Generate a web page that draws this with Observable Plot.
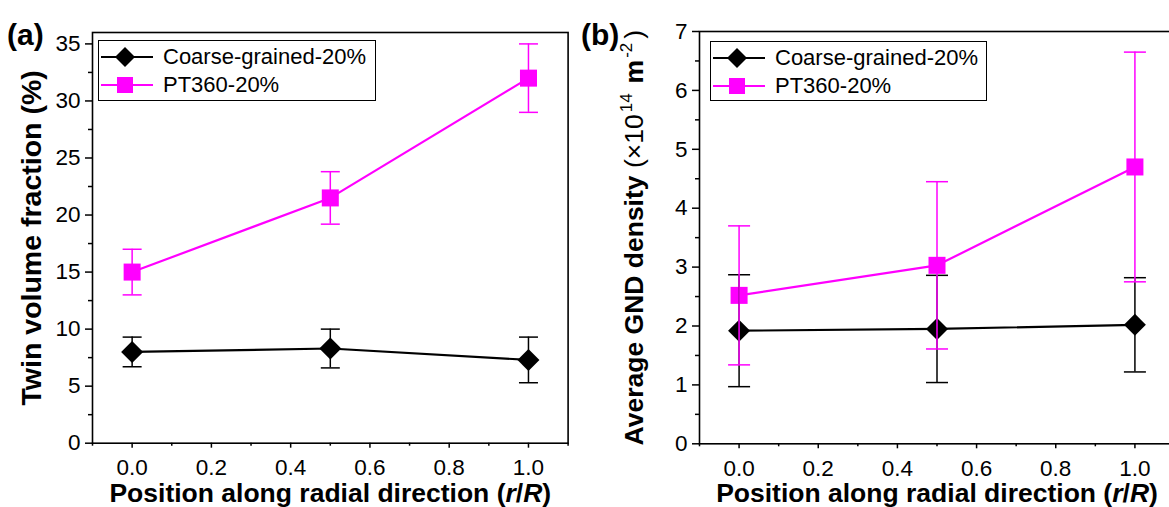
<!DOCTYPE html>
<html>
<head>
<meta charset="utf-8">
<script src="https://cdn.jsdelivr.net/npm/d3@7"></script>
<script src="https://cdn.jsdelivr.net/npm/@observablehq/plot@0.6"></script>
<style>
  html, body { margin: 0; padding: 0; background: white; }
  #wrap { position: relative; width: 1169px; height: 507px; overflow: hidden; background: white;
          font-family: "Liberation Sans", Arial, Helvetica, sans-serif; }
  .panel { position: absolute; top: 0; }
  .panel svg { max-width: none !important; }
  .panel svg g[aria-label$="tick label"], .panel svg g[aria-label$="tick label"] text { font-size: 22.5px; }
  .tag { position: absolute; font-weight: bold; font-size: 30px; line-height: 1; }
  .legend { position: absolute; border: 1.5px solid black; box-sizing: border-box; background: white; }
  .legend .row { position: absolute; left: 0; height: 28px; display: flex; align-items: center; font-size: 22px; white-space: nowrap; }
  .legend .row svg { display: block; margin-right: 7px; }
</style>
</head>
<body>
<div id="wrap">
  <div class="panel" id="pa" style="left:0px"></div>
  <div class="panel" id="pb" style="left:585px"></div>
  <div class="tag" style="left:7px; top:20px">(a)</div>
  <div class="tag" style="left:581px; top:20px">(b)</div>
  <div class="legend" id="lega" style="left:98px; top:40px; width:278px; height:61px"></div>
  <div class="legend" id="legb" style="left:710px; top:41px; width:277px; height:60px"></div>
</div>
<script>
// ---------------- data ----------------
const positions = [0.0, 0.5, 1.0];
const seriesNames = ["Coarse-grained-20%", "PT360-20%"];
const seriesColors = ["#000000", "#ff00ff"];

// (a) Twin volume fraction (%)
const twinCoarse   = [8.0, 8.3, 7.3];
const twinCoarseLo = [6.7, 6.6, 5.3];
const twinCoarseHi = [9.3, 10.0, 9.3];
const twinPT       = [15.0, 21.5, 32.0];
const twinPTLo     = [13.0, 19.2, 29.0];
const twinPTHi     = [17.0, 23.8, 35.0];

// (b) Average GND density (x10^14 m^-2)
const gndCoarse   = [1.92, 1.95, 2.02];
const gndCoarseLo = [0.97, 1.04, 1.22];
const gndCoarseHi = [2.87, 2.86, 2.82];
const gndPT       = [2.52, 3.03, 4.70];
const gndPTLo     = [1.34, 1.61, 2.75];
const gndPTHi     = [3.70, 4.45, 6.65];

// ticks
const xMajor = [0.0, 0.2, 0.4, 0.6, 0.8, 1.0];
const xMinor = [-0.1, 0.1, 0.3, 0.5, 0.7, 0.9, 1.1];
const yMajorA = [0, 5, 10, 15, 20, 25, 30, 35];
const yMinorA = [2.5, 7.5, 12.5, 17.5, 22.5, 27.5, 32.5];
const yMajorB = [0, 1, 2, 3, 4, 5, 6, 7];
const yMinorB = [0.5, 1.5, 2.5, 3.5, 4.5, 5.5, 6.5];

const xTitle = "Position along radial direction (r/R)";
const yTitleA = "Twin volume fraction (%)";
const yTitleB = "Average GND density (×1014 m-2)";

function rows(y, lo, hi, s) {
  return positions.map((x, i) => ({x, y: y[i], lo: lo[i], hi: hi[i], s}));
}

const capSymbol = {
  draw(context, size) {
    const r = Math.sqrt(size / Math.PI);
    context.moveTo(-r, 0);
    context.lineTo(r, 0);
  }
};

const FONT = '"Liberation Sans", Arial, Helvetica, sans-serif';

function panel({width, marginLeft, marginRight, marginTop, marginBottom, yDomain, yMajor, yMinor, coarse, pt, yTitle, capR, titleDx, yTitleSize}) {
  const errLayer = (d, color) => [
    Plot.ruleX(d, {x: "x", y1: "lo", y2: "hi", stroke: color, strokeWidth: 1.5}),
    Plot.dot(d, {x: "x", y: "lo", symbol: capSymbol, r: capR, stroke: color, strokeWidth: 1.5, fill: "none"}),
    Plot.dot(d, {x: "x", y: "hi", symbol: capSymbol, r: capR, stroke: color, strokeWidth: 1.5, fill: "none"})
  ];
  return Plot.plot({
    width, height: 507, marginLeft, marginRight, marginTop, marginBottom,
    x: {domain: [-0.1, 1.1]},
    y: {domain: yDomain},
    style: {fontFamily: FONT, fontSize: "22.5px", color: "black", background: "white", overflow: "visible"},
    marks: [
      Plot.line(pt, {x: "x", y: "y", stroke: seriesColors[1], strokeWidth: 2.2}),
      Plot.line(coarse, {x: "x", y: "y", stroke: seriesColors[0], strokeWidth: 2.2}),
      Plot.dot(pt, {x: "x", y: "y", symbol: "square", r: 9.6, fill: seriesColors[1], stroke: "none"}),
      Plot.dot(coarse, {x: "x", y: "y", symbol: "diamond2", r: 9.9, fill: seriesColors[0], stroke: "none"}),
      ...errLayer(coarse, seriesColors[0]),
      ...errLayer(pt, seriesColors[1]),
      Plot.frame({stroke: "black", strokeWidth: 1.6}),
      Plot.axisX({ticks: xMajor, tickSize: 5, tickPadding: 11, tickFormat: d3.format(".1f"), label: null, strokeWidth: 1.5, fontSize: 22.5}),
      Plot.axisX({ticks: xMinor, tickSize: 3, tickFormat: () => "", label: null, strokeWidth: 1.5}),
      Plot.axisY({ticks: yMajor, tickSize: 7, tickPadding: 5, tickFormat: d3.format("d"), label: null, strokeWidth: 1.5, fontSize: 22.5}),
      Plot.axisY({ticks: yMinor, tickSize: 4, tickFormat: () => "", label: null, strokeWidth: 1.5}),
      Plot.text([xTitle], {text: d => d, frameAnchor: "bottom", lineAnchor: "middle", textAnchor: "middle", dy: 50, fontSize: 26.5, fontWeight: "bold"}),
      Plot.text([yTitle], {text: d => d, frameAnchor: "left", lineAnchor: "middle", textAnchor: "middle", dx: titleDx, rotate: -90, fontSize: yTitleSize, fontWeight: "bold"})
    ]
  });
}

function rich(svg, match, parts) {
  d3.select(svg).selectAll("text").filter(function () { return this.textContent === match; })
    .each(function () {
      const t = d3.select(this);
      t.text(null);
      for (const p of parts) {
        const s = t.append("tspan").text(p.t);
        if (p.italic) s.attr("font-style", "italic");
        if (p.weight) s.attr("font-weight", p.weight);
        if (p.size) s.attr("font-size", p.size);
        if (p.dy) s.attr("dy", p.dy);
        if (p.dx) s.attr("dx", p.dx);
      }
    });
}

const svgA = panel({
  width: 585, marginLeft: 92, marginRight: 17.4, marginTop: 32, marginBottom: 64.3,
  yDomain: [0, 36], yMajor: yMajorA, yMinor: yMinorA,
  coarse: rows(twinCoarse, twinCoarseLo, twinCoarseHi, 0),
  pt: rows(twinPT, twinPTLo, twinPTHi, 1),
  yTitle: yTitleA, capR: 9.5, titleDx: -61, yTitleSize: 28.5
});
const svgB = panel({
  width: 599, marginLeft: 114, marginRight: 10, marginTop: 31, marginBottom: 63.7,
  yDomain: [0, 7], yMajor: yMajorB, yMinor: yMinorB,
  coarse: rows(gndCoarse, gndCoarseLo, gndCoarseHi, 0),
  pt: rows(gndPT, gndPTLo, gndPTHi, 1),
  yTitle: yTitleB, capR: 11, titleDx: -65, yTitleSize: 26.5
});

const xParts = [
  {t: "Position along radial direction ("},
  {t: "r", italic: true}, {t: "/"}, {t: "R", italic: true}, {t: ")"}
];
rich(svgA, xTitle, xParts);
rich(svgB, xTitle, xParts);
rich(svgB, yTitleB, [
  {t: "Average GND density "},
  {t: "(×10", weight: "normal"},
  {t: "14", weight: "normal", size: 17, dy: -11, dx: 2},
  {t: "m", dy: 11, dx: 10},
  {t: "-2", weight: "normal", size: 17, dy: -11, dx: 2},
  {t: ")", weight: "normal", dy: 11, dx: 4}
]);

document.getElementById("pa").appendChild(svgA);
document.getElementById("pb").appendChild(svgB);

// legends
function legend(id) {
  const el = document.getElementById(id);
  const tops = [2, 30];
  seriesNames.forEach((name, i) => {
    const row = document.createElement("div");
    row.className = "row";
    row.style.top = tops[i] + "px";
    const marker = i === 0
      ? '<path d="M26,5 L36,15 L26,25 L16,15 Z" fill="#000"/>'
      : '<rect x="18" y="7" width="16" height="16" fill="#ff00ff"/>';
    row.innerHTML = '<svg width="57" height="30" viewBox="0 0 57 30"><line x1="2" y1="15" x2="54" y2="15" stroke="' +
      seriesColors[i] + '" stroke-width="2"/>' + marker + '</svg><span>' + name + '</span>';
    el.appendChild(row);
  });
}
legend("lega");
legend("legb");
</script>
</body>
</html>
